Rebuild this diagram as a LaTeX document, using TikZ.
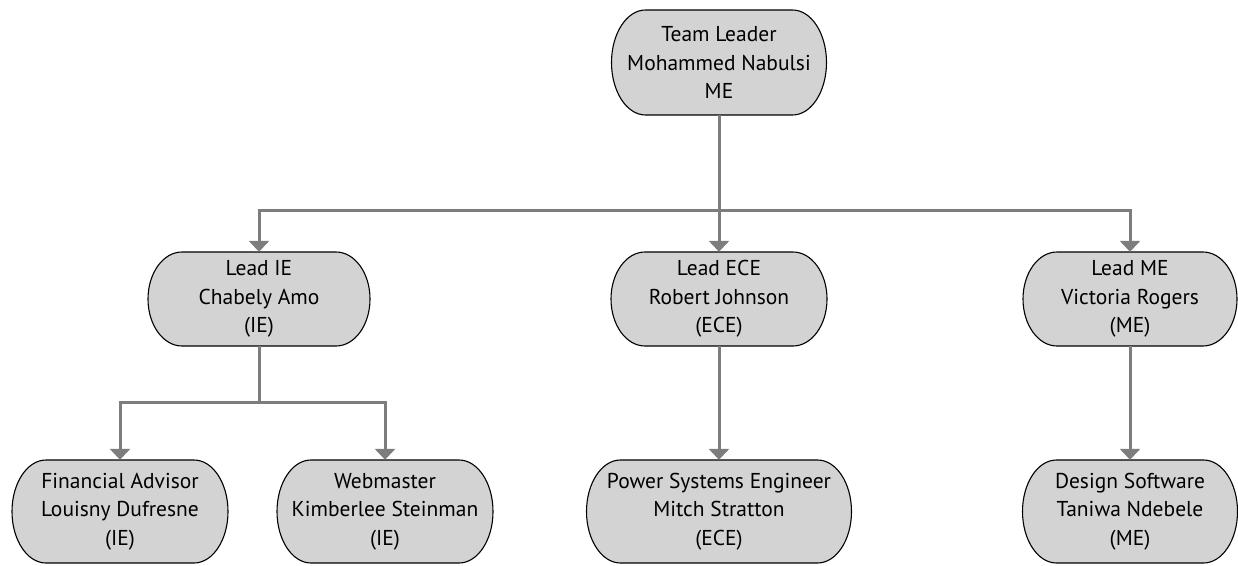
\documentclass[tikz,border=0pt]{standalone}
\usepackage{fontspec}
\setmainfont{PT Sans}
\usetikzlibrary{arrows.meta}
\definecolor{boxfill}{RGB}{211,211,211}
\definecolor{linegray}{RGB}{125,125,125}
\tikzset{
  boxshape/.style={draw=black, line width=1.1pt, fill=boxfill},
  txt/.style={align=center, inner sep=0pt, font=\fontsize{21.5}{28.5}\selectfont},
  conn/.style={draw=linegray, line width=3pt},
  arr/.style={conn, -{Triangle[width=20pt,length=11pt]}}
}
% #1 name, #2 cx, #3 cy, #4 width, #5 height, #6 text
\newcommand\orgbox[6]{%
  \pgfmathsetmacro\obhh{#5/2}%
  \pgfmathsetmacro\obhw{#4/2-34}%
  \draw[boxshape] (#2-\obhw,#3+\obhh) -- (#2+\obhw,#3+\obhh)
     arc[start angle=90,end angle=-90,x radius=34,y radius=\obhh]
     -- (#2-\obhw,#3-\obhh)
     arc[start angle=270,end angle=90,x radius=34,y radius=\obhh] -- cycle;
  \node[txt, minimum width=#4pt, minimum height=#5pt] (#1) at (#2,#3) {#6};
}
\begin{document}
\begin{tikzpicture}[x=1pt,y=1pt]
\useasboundingbox (0,0) rectangle (1238,-565);
\orgbox{top}{719}{-62.5}{215}{105}{Team Leader\\Mohammed Nabulsi\\ME}
\orgbox{lie}{259}{-299}{222}{94}{Lead IE\\Chabely Amo\\(IE)}
\orgbox{lece}{719}{-299}{216}{94}{Lead ECE\\Robert Johnson\\(ECE)}
\orgbox{lme}{1130}{-299}{214}{94}{Lead ME\\Victoria Rogers\\(ME)}
\orgbox{fa}{120}{-511.5}{216}{103}{Financial Advisor\\Louisny Dufresne\\(IE)}
\orgbox{web}{385}{-511.5}{216}{103}{Webmaster\\Kimberlee Steinman\\(IE)}
\orgbox{pse}{719}{-511.5}{265}{103}{Power Systems Engineer\\Mitch Stratton\\(ECE)}
\orgbox{ds}{1130}{-511.5}{215}{103}{Design Software\\Taniwa Ndebele\\(ME)}
\coordinate (bus1) at (719,-210);
\coordinate (bus2) at (259,-402);
\draw[arr] (top.south) -- (lece.north);
\draw[arr] (bus1) -| (lie.north);
\draw[arr] (bus1) -| (lme.north);
\draw[conn] (lie.south) -- (bus2);
\draw[arr] (bus2) -| (fa.north);
\draw[arr] (bus2) -| (web.north);
\draw[arr] (lece.south) -- (pse.north);
\draw[arr] (lme.south) -- (ds.north);
\end{tikzpicture}
\end{document}
